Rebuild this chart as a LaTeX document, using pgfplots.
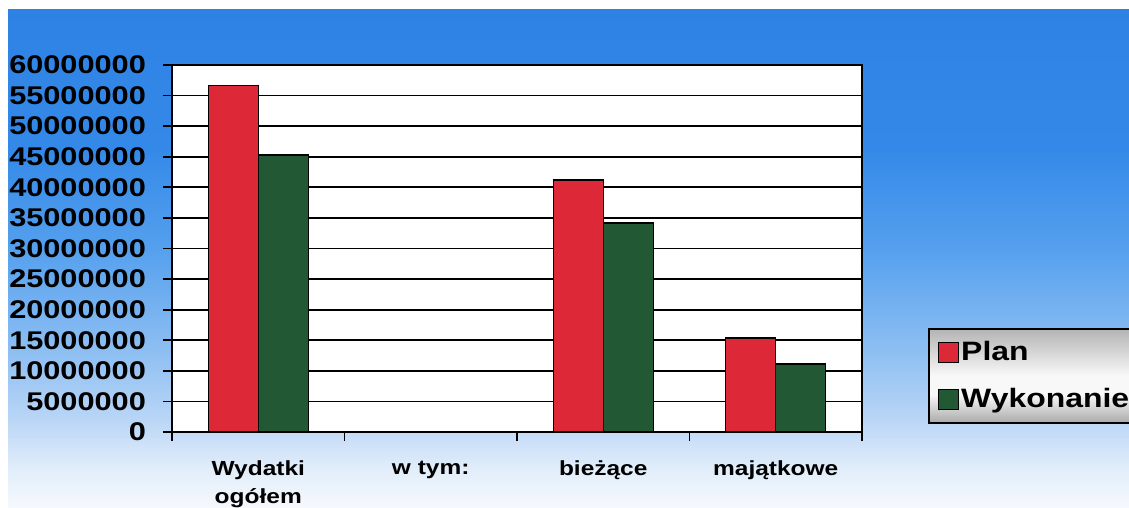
\documentclass[border=0pt]{standalone}
\usepackage{pgfplots}
\pgfplotsset{compat=1.18}
\usepackage{fontspec}
\setmainfont{Liberation Sans}[FakeStretch=1.2]
\definecolor{planred}{RGB}{220,40,55}
\definecolor{wykgreen}{RGB}{35,88,52}
\definecolor{bgA}{RGB}{246,249,253}
\definecolor{bgB}{RGB}{225,237,250}
\definecolor{bgC}{RGB}{185,213,246}
\definecolor{bgD}{RGB}{140,190,242}
\definecolor{bgE}{RGB}{85,160,238}
\definecolor{bgF}{RGB}{52,137,232}
\definecolor{bgG}{RGB}{45,130,228}
\definecolor{lgA}{RGB}{180,180,180}
\definecolor{lgB}{RGB}{248,248,248}
\definecolor{lgC}{RGB}{170,170,170}
\pgfdeclareverticalshading{bgshade}{100bp}{
  color(0bp)=(bgA);
  color(25bp)=(bgA);
  color(29bp)=(bgB);
  color(34bp)=(bgC);
  color(41bp)=(bgD);
  color(51bp)=(bgE);
  color(61bp)=(bgF);
  color(75bp)=(bgG);
  color(100bp)=(bgG)}
\pgfdeclareverticalshading{legshade}{100bp}{
  color(0bp)=(lgC);
  color(25bp)=(lgC);
  color(40bp)=(lgB);
  color(50bp)=(lgB);
  color(75bp)=(lgA);
  color(100bp)=(lgA)}
\begin{document}
\begin{tikzpicture}
\path[use as bounding box] (0pt,0pt) rectangle (564.5pt,254pt);
\fill[white] (0pt,0pt) rectangle (564.5pt,254pt);
\shade[shading=bgshade] (4pt,0pt) rectangle (564.5pt,249pt);
\begin{axis}[
  at={(86pt,38pt)}, anchor=south west,
  scale only axis, width=345pt, height=183.5pt,
  ybar=0pt, bar width=25pt,
  legend image code/.code={\draw[#1, line width=0.6pt] (0pt,-5pt) rectangle (10pt,5pt);},
  xmin=0, xmax=4, ymin=0, ymax=60000000,
  axis background/.style={fill=white},
  xtick pos=bottom, ytick pos=left,
  xtick={0.5,1.5,2.5,3.5},
  xticklabels={{Wydatki\\ogółem},{w tym:},{bieżące},{majątkowe}},
  xticklabel style={align=center, font=\bfseries\fontsize{10.2}{14}\selectfont, anchor=north, yshift=-6.5pt},
  major x tick style={draw=none},
  minor xtick={0,1,2,3,4},
  minor x tick style={draw=black, line width=0.9pt},
  minor tick length=4.5pt,
  ytick distance=5000000,
  ymajorgrids,
  grid style={black, line width=0.9pt},
  axis line style={black, line width=1pt},
  tick style={black, line width=0.9pt},
  tick align=outside, major tick length=4.5pt,
  scaled y ticks=false,
  yticklabel style={/pgf/number format/fixed, /pgf/number format/1000 sep={},
    /pgf/number format/assume math mode=true, xshift=-5pt,
    font=\bfseries\fontsize{12.8}{14}\selectfont},
  legend style={at={(1.0957,0.2834)}, anchor=north west, draw=black, line width=1pt,
    shade, shading=legshade,
    font=\bfseries\fontsize{13.3}{15}\selectfont,
    inner xsep=4.5pt, inner ysep=5pt, row sep=10.5pt,
    nodes={inner sep=1pt}},
  legend cell align=left,
]
\addplot[fill=planred, draw=black, line width=0.7pt] coordinates {(0.5,56600000) (2.5,41200000) (3.5,15400000)};
\addplot[fill=wykgreen, draw=black, line width=0.7pt] coordinates {(0.5,45300000) (2.5,34200000) (3.5,11100000)};
\legend{Plan,Wykonanie}
\end{axis}
\end{tikzpicture}
\end{document}
